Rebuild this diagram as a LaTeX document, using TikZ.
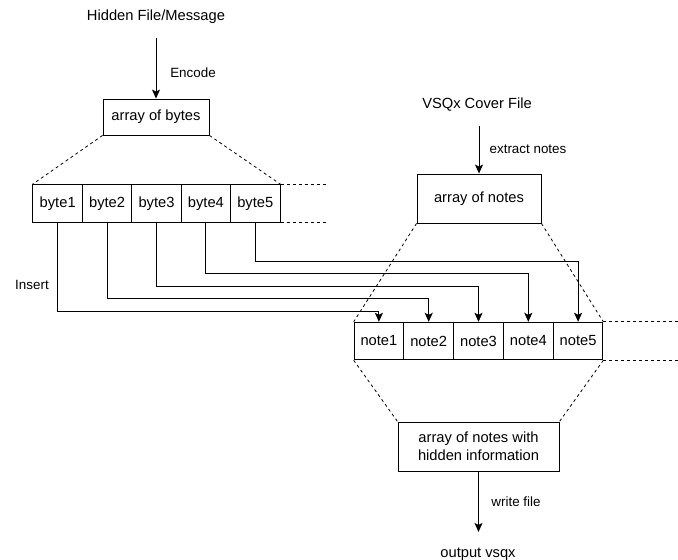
\documentclass[tikz,border=0pt]{standalone}
\usepackage{fontspec}
\setmainfont{Liberation Sans}
\usetikzlibrary{arrows.meta}

\begin{document}
\begin{tikzpicture}[x=1pt, y=-1pt, line width=0.9pt,
  box/.style={draw, inner sep=0pt, font=\fontsize{14.7}{18}\selectfont},
  cell/.style={box, minimum width=49.6pt, minimum height=37.5pt},
  title/.style={font=\fontsize{14.7}{18}\selectfont},
  lbl/.style={font=\fontsize{13.4}{16}\selectfont},
  arr/.style={-{Stealth[length=9pt, width=8pt, inset=2pt]}},
  zoomline/.style={dash pattern=on 3pt off 3pt, line width=0.8pt}]
  \useasboundingbox (0,0) rectangle (678,560);

  % message side
  \node[title] (hidden) at (156,17) {Hidden File/Message};
  \node[box, minimum width=106pt, minimum height=36pt] (bytes) at (156,117) {array of bytes};
  \node[cell] (b1) at (57.7,203.5) {byte1};
  \node[cell] (b2) at (107.1,203.5) {byte2};
  \node[cell] (b3) at (156.5,203.5) {byte3};
  \node[cell] (b4) at (205.9,203.5) {byte4};
  \node[cell] (b5) at (255.3,203.5) {byte5};

  % cover side
  \node[title] (cover) at (477,105) {VSQx Cover File};
  \node[box, minimum width=124pt, minimum height=49pt] (notes) at (479,198.5) {array of notes};
  \node[cell] (n1) at (378.9,341) {note1};
  \node[cell] (n2) at (428.7,341) {note2};
  \node[cell] (n3) at (478.5,341) {note3};
  \node[cell] (n4) at (528.3,341) {note4};
  \node[cell] (n5) at (578.1,341) {note5};
  \node[box, minimum width=161pt, minimum height=49pt, align=center] (hid) at (478.5,446.5)
    {array of notes with\\hidden information};
  \node[title] (out) at (478,554) {output vsqx};

  \coordinate (bend) at (328,0);
  \coordinate (nend) at (678,0);

  % flow arrows
  \draw[arr, shorten <=10pt] (hidden.south) -- (bytes.north);
  \node[lbl] (enc) at (193,73) {Encode};
  \draw[arr, shorten <=10pt] (cover.south -| notes.north) -- (notes.north);
  \node[lbl] (ext) at (528,149) {extract notes};
  \draw[arr, shorten >=12pt] (hid.south) -- (hid.south |- out.north);
  \node[lbl] (wf) at (516,502) {write file};
  \node[lbl] (ins) at (32,285) {Insert};

  % zoom lines
  \draw[zoomline] (bytes.south west) -- (b1.north west);
  \draw[zoomline] (bytes.south east) -- (b5.north east);
  \draw[zoomline] (b5.north east) -- (b5.north east -| bend);
  \draw[zoomline] (b5.south east) -- (b5.south east -| bend);
  \draw[zoomline] (notes.south west) -- (n1.north west);
  \draw[zoomline] (notes.south east) -- (n5.north east);
  \draw[zoomline] (n5.north east) -- (n5.north east -| nend);
  \draw[zoomline] (n5.south east) -- (n5.south east -| nend);
  \draw[zoomline] (n1.south west) -- (hid.north west);
  \draw[zoomline] (n5.south east) -- (hid.north east);

  % byte -> note
  \draw[arr] (b1.south) -- (b1.south |- 0,311) -| (n1.north);
  \draw[arr] (b2.south) -- (b2.south |- 0,298) -| (n2.north);
  \draw[arr] (b3.south) -- (b3.south |- 0,286) -| (n3.north);
  \draw[arr] (b4.south) -- (b4.south |- 0,273) -| (n4.north);
  \draw[arr] (b5.south) -- (b5.south |- 0,261) -| (n5.north);
\end{tikzpicture}
\end{document}
